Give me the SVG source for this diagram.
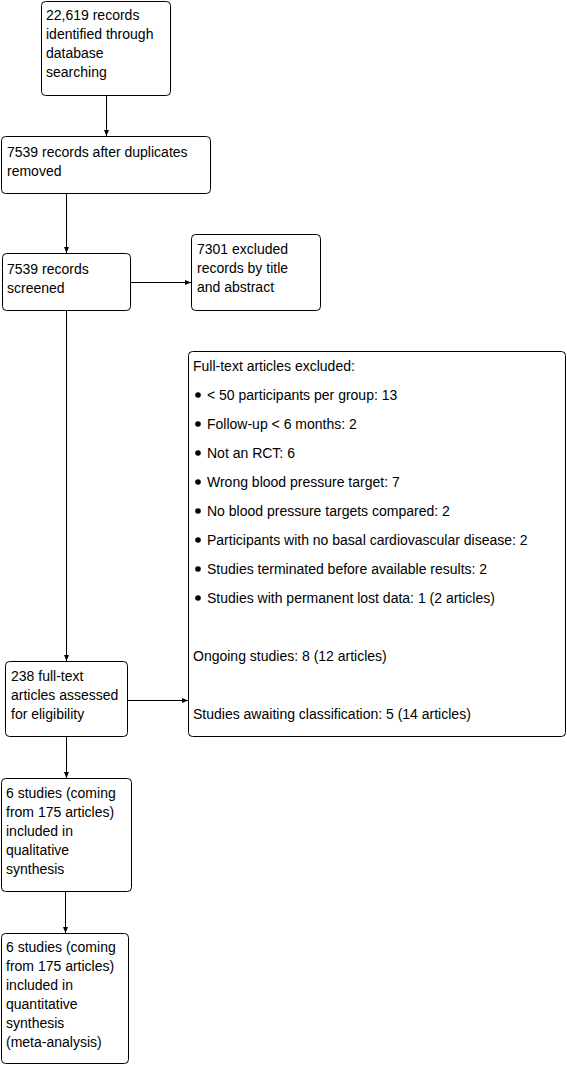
<svg xmlns="http://www.w3.org/2000/svg" width="567" height="1067" viewBox="0 0 567 1067">
<style>
.box{fill:#fff;stroke:#000;stroke-width:1}
text{font-family:"Liberation Sans",Arial,sans-serif;font-size:14px;fill:#000}
.c{stroke:#000;stroke-width:1;fill:none}
</style>
<defs>
<marker id="ah" markerWidth="6" markerHeight="6" refX="6" refY="3" orient="auto" markerUnits="userSpaceOnUse">
<path d="M0,0.5 L6,3 L0,5.5 Z" fill="#000"/>
</marker>
</defs>
<rect width="567" height="1067" fill="#fff"/>
<g id="connectors">
<line class="c" x1="106.5" y1="95" x2="106.5" y2="136" marker-end="url(#ah)"/>
<line class="c" x1="66.5" y1="193" x2="66.5" y2="253" marker-end="url(#ah)"/>
<line class="c" x1="130" y1="282.5" x2="191" y2="282.5" marker-end="url(#ah)"/>
<line class="c" x1="66.5" y1="310" x2="66.5" y2="661" marker-end="url(#ah)"/>
<line class="c" x1="128" y1="700.5" x2="188" y2="700.5" marker-end="url(#ah)"/>
<line class="c" x1="66.5" y1="737" x2="66.5" y2="778" marker-end="url(#ah)"/>
<line class="c" x1="65.5" y1="892" x2="65.5" y2="933" marker-end="url(#ah)"/>
</g>
<g id="n1">
<rect class="box" x="41.5" y="1.5" width="129" height="94" rx="4"/>
<text x="46" y="20">22,619 records</text>
<text x="46" y="39">identified through</text>
<text x="46" y="58">database</text>
<text x="46" y="77">searching</text>
</g>
<g id="n2">
<rect class="box" x="1.5" y="136.5" width="209" height="57" rx="4"/>
<text x="7" y="157">7539 records after duplicates</text>
<text x="7" y="176">removed</text>
</g>
<g id="n3">
<rect class="box" x="2.5" y="253.5" width="128" height="57" rx="4"/>
<text x="7" y="274">7539 records</text>
<text x="7" y="293">screened</text>
</g>
<g id="n4">
<rect class="box" x="191.5" y="234.5" width="129" height="76" rx="4"/>
<text x="197" y="254">7301 excluded</text>
<text x="197" y="273">records by title</text>
<text x="197" y="292">and abstract</text>
</g>
<g id="n5">
<rect class="box" x="188.5" y="351.5" width="377" height="385" rx="4"/>
<text x="193" y="371">Full-text articles excluded:</text>
<g>
<circle cx="198" cy="395" r="2.8"/>
<text x="207" y="400">&lt; 50 participants per group: 13</text>
<circle cx="198" cy="424" r="2.8"/>
<text x="207" y="429">Follow-up &lt; 6 months: 2</text>
<circle cx="198" cy="453" r="2.8"/>
<text x="207" y="458">Not an RCT: 6</text>
<circle cx="198" cy="482" r="2.8"/>
<text x="207" y="487">Wrong blood pressure target: 7</text>
<circle cx="198" cy="511" r="2.8"/>
<text x="207" y="516">No blood pressure targets compared: 2</text>
<circle cx="198" cy="540" r="2.8"/>
<text x="207" y="545">Participants with no basal cardiovascular disease: 2</text>
<circle cx="198" cy="569" r="2.8"/>
<text x="207" y="574">Studies terminated before available results: 2</text>
<circle cx="198" cy="598" r="2.8"/>
<text x="207" y="603">Studies with permanent lost data: 1 (2 articles)</text>
</g>
<text x="193" y="661">Ongoing studies: 8 (12 articles)</text>
<text x="193" y="719">Studies awaiting classification: 5 (14 articles)</text>
</g>
<g id="n6">
<rect class="box" x="5.5" y="661.5" width="122" height="75" rx="4"/>
<text x="11" y="681">238 full-text</text>
<text x="11" y="700">articles assessed</text>
<text x="11" y="719">for eligibility</text>
</g>
<g id="n7">
<rect class="box" x="1.5" y="778.5" width="130" height="113" rx="4"/>
<text x="6" y="798">6 studies (coming</text>
<text x="6" y="817">from 175 articles)</text>
<text x="6" y="836">included in</text>
<text x="6" y="855">qualitative</text>
<text x="6" y="874">synthesis</text>
</g>
<g id="n8">
<rect class="box" x="1.5" y="933.5" width="127" height="130" rx="4"/>
<text x="6" y="952">6 studies (coming</text>
<text x="6" y="971">from 175 articles)</text>
<text x="6" y="990">included in</text>
<text x="6" y="1009">quantitative</text>
<text x="6" y="1028">synthesis</text>
<text x="6" y="1047">(meta-analysis)</text>
</g>
</svg>
